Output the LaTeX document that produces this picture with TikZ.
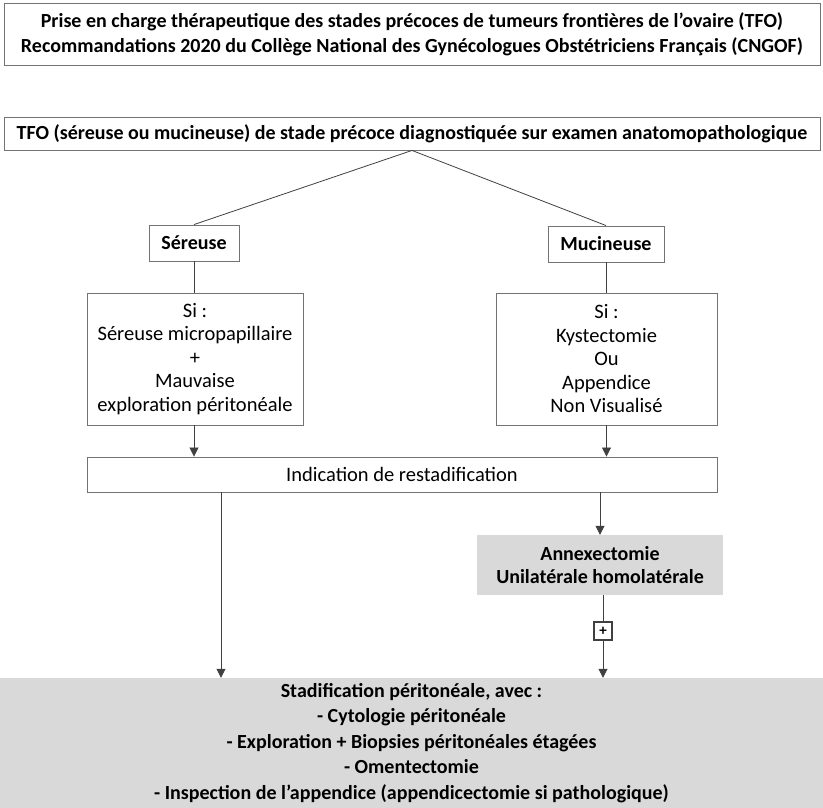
\documentclass[tikz,border=0pt]{standalone}
\usepackage{fontspec}
\setmainfont{Carlito}
\usetikzlibrary{arrows.meta,positioning}
\newcommand\figfont{\fontsize{20.5}{23.5}\selectfont}
\newcommand\headfont{\fontsize{20}{25}\selectfont\bfseries}
\tikzset{
  box/.style={rectangle,draw=gray!90!black,line width=0.9pt,align=center,inner sep=0pt},
  headbox/.style={box,font=\headfont},
  condbox/.style={box,font=\figfont},
  greybox/.style={rectangle,fill=gray!30,align=center,inner sep=0pt,font=\headfont},
  plusbox/.style={rectangle,draw=darkgray,line width=1.3pt,minimum size=18pt,inner sep=0pt,
    font=\fontsize{15}{16}\selectfont\bfseries},
  arr/.style={-{Triangle[length=9pt,width=9pt]},draw=darkgray,line width=0.8pt},
  lnk/.style={draw=darkgray,line width=0.8pt}
}

\begin{document}
\begin{tikzpicture}[x=1pt,y=-1pt]
  \useasboundingbox (0,0) rectangle (823,808);

  % Title
  \node[headbox,minimum width=816pt,minimum height=62pt] (title) at (412,34)
    {Prise en charge thérapeutique des stades précoces de tumeurs frontières de l’ovaire (TFO)\\
     Recommandations 2020 du Collège National des Gynécologues Obstétriciens Français (CNGOF)};

  % Diagnosis
  \node[headbox,minimum width=816pt,minimum height=33pt] (tfo) at (412,133.5)
    {TFO (séreuse ou mucineuse) de stade précoce diagnostiquée sur examen anatomopathologique};

  % Branches
  \node[headbox,minimum width=90pt,minimum height=36pt] (ser) at (194,243) {Séreuse};
  \node[headbox,minimum width=116pt,minimum height=36pt] (muc) at (606,244) {Mucineuse};

  \draw[lnk] (tfo.south) -- (ser.north);
  \draw[lnk] (tfo.south) -- (muc.north);

  % Conditions
  \node[condbox,minimum width=216pt,minimum height=132pt] (siser) at (195,359)
    {Si :\\Séreuse micropapillaire\\+\\Mauvaise\\exploration péritonéale};
  \node[condbox,minimum width=221pt,minimum height=132pt] (simuc) at (606.5,359)
    {Si :\\Kystectomie\\Ou\\Appendice\\Non Visualisé};

  \draw[lnk] (ser) -- (ser |- siser.north);
  \draw[lnk] (muc) -- (muc |- simuc.north);

  % Restaging
  \node[condbox,minimum width=630pt,minimum height=35pt] (restad) at (402,474.5)
    {Indication de restadification};

  \draw[arr] (ser |- siser.south) -- (ser |- restad.north);
  \draw[arr] (simuc.south) -- (simuc.south |- restad.north);

  % Surgery
  \node[greybox,minimum width=246pt,minimum height=60pt,font=\fontsize{20}{23}\selectfont\bfseries]
    (annex) at (600,565) {Annexectomie\\Unilatérale homolatérale};
  \node[plusbox] (plus) at (603,631) {+};
  \node[greybox,minimum width=823pt,minimum height=130pt,font=\fontsize{20}{25.5}\selectfont\bfseries]
    (stad) at (411.5,743)
    {Stadification péritonéale, avec :\\
     - Cytologie péritonéale\\
     - Exploration + Biopsies péritonéales étagées\\
     - Omentectomie\\
     - Inspection de l’appendice (appendicectomie si pathologique)};

  \draw[arr] (annex.north |- restad.south) -- (annex.north);
  \draw[lnk] (plus |- annex.south) -- (plus);
  \draw[arr] (plus) -- (plus |- stad.north);
  \draw[arr] ([xshift=-181pt]restad.south) -- ([xshift=-181pt]restad.south |- stad.north);

\end{tikzpicture}
\end{document}
